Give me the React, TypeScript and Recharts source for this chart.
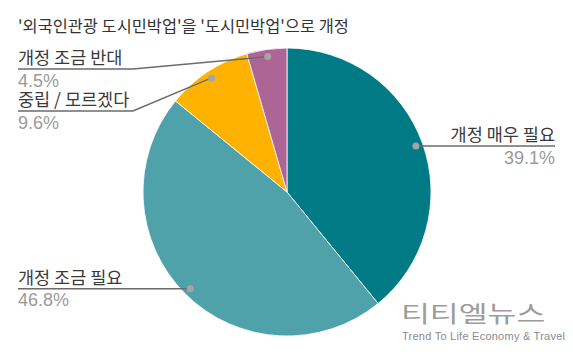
import React from 'react';
import { PieChart, Pie, Cell } from 'recharts';

// 응답 항목
const CATEGORIES = ['개정 매우 필요', '개정 조금 필요', '중립 / 모르겠다', '개정 조금 반대'];
// 비율(%)
const SHARES = [39.1, 46.8, 9.6, 4.5];

const TITLE = "'외국인관광 도시민박업'을 '도시민박업'으로 개정";

const COLORS = ['#007A84', '#4FA2AA', '#FFB300', '#AD6596'];

// 라벨 위치 (좌/우, 꺾임 높이)
const LABEL_LAYOUT = [
  { side: 'right', elbowY: null },
  { side: 'left', elbowY: null },
  { side: 'left', elbowY: 111 },
  { side: 'left', elbowY: 69 },
];

const data = CATEGORIES.map((name, i) => ({ name, value: SHARES[i] }));

const RADIAN = Math.PI / 180;
const KO_FONT = '"Noto Sans CJK KR", "Noto Sans", sans-serif';
const NUM_FONT = '"Liberation Sans", Arial, sans-serif';

const renderLabel = ({ cx, cy, midAngle, outerRadius, index }: any) => {
  const r = outerRadius * 0.95;
  const x = cx + r * Math.cos(-midAngle * RADIAN);
  const y = cy + r * Math.sin(-midAngle * RADIAN);
  const layout = LABEL_LAYOUT[index];
  const lineY = layout.elbowY ?? y;
  const endX = layout.side === 'right' ? 555 : 18;
  const points =
    layout.elbowY != null
      ? `${x},${y} 133,${lineY} ${endX},${lineY}`
      : `${x},${y} ${endX},${lineY}`;
  const anchor = layout.side === 'right' ? 'end' : 'start';

  return (
    <g key={`label-${index}`}>
      <polyline points={points} fill="none" stroke="#6b6b6b" strokeWidth={1.5} />
      <circle cx={x} cy={y} r={3.5} fill="#a5a5a5" />
      <text x={endX} y={lineY - 5} textAnchor={anchor} fontSize={17.5} fill="#3a3a3a" fontFamily={KO_FONT}>
        {CATEGORIES[index]}
      </text>
      <text x={endX} y={lineY + 17.5} textAnchor={anchor} fontSize={18} fill="#9a9a9a" fontFamily={NUM_FONT}>
        {`${SHARES[index].toFixed(1)}%`}
      </text>
    </g>
  );
};

export default function App() {
  return (
    <div style={{ position: 'absolute', left: 0, top: 0, width: 573, height: 354, background: '#fff' }}>
      <PieChart width={573} height={354} margin={{ top: 0, right: 0, bottom: 0, left: 0 }}>
        <Pie
          data={data}
          dataKey="value"
          cx={287}
          cy={192}
          outerRadius={144}
          startAngle={90}
          endAngle={-270}
          stroke="#ffffff"
          strokeWidth={0.8}
          labelLine={false}
          label={renderLabel}
          isAnimationActive={false}
        >
          {data.map((entry, i) => (
            <Cell key={entry.name} fill={COLORS[i]} />
          ))}
        </Pie>
      </PieChart>
      <svg width={573} height={354} style={{ position: 'absolute', left: 0, top: 0, pointerEvents: 'none' }}>
        <text x={18} y={32} fontSize={16.4} fill="#333" fontFamily={KO_FONT}>
          {TITLE}
        </text>
        <text
          transform="translate(401,322) scale(0.98,0.7)"
          fontSize={32}
          fill="#9c9c9c"
          fontFamily={KO_FONT}
        >
          티티엘뉴스
        </text>
        <text x={402} y={340} fontSize={11} fill="#8a8a8a" fontFamily={NUM_FONT} textLength={163}>
          Trend To Life Economy &amp; Travel
        </text>
      </svg>
    </div>
  );
}
